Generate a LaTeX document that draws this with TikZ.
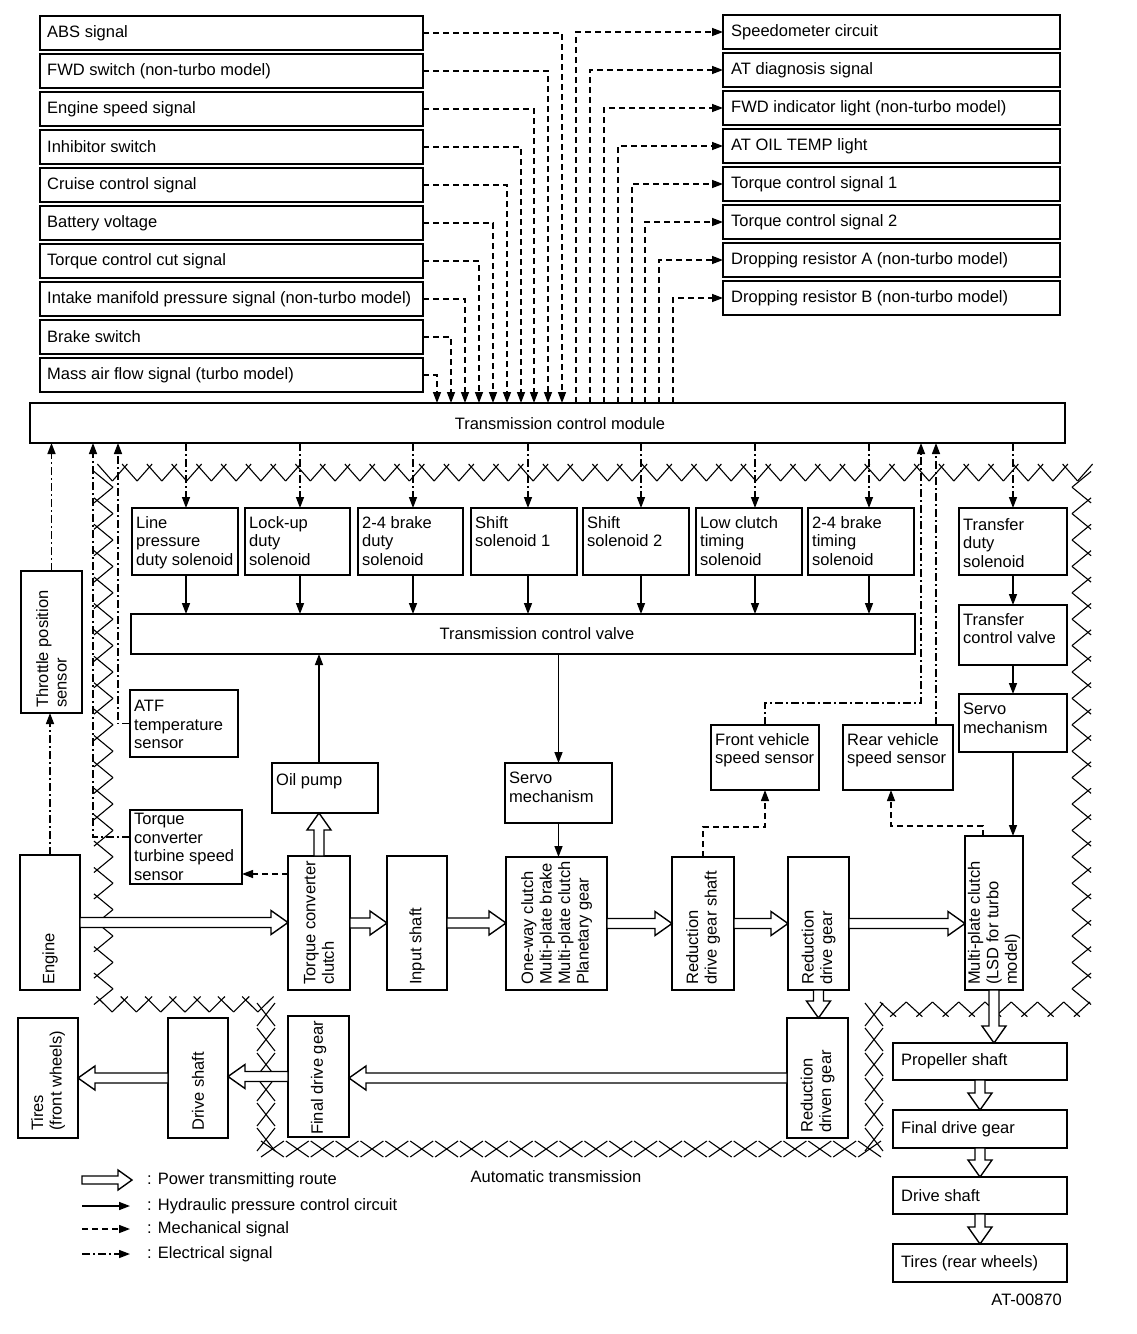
\documentclass[tikz,border=0pt]{standalone}
\usepackage{fontspec}
\setmainfont{Liberation Sans}
\usetikzlibrary{arrows.meta,calc}
\tikzset{
 box/.style={draw, line width=1.5pt, inner sep=0pt, outer sep=0pt},
 txt/.style={font=\fontsize{16.5}{18.5}\selectfont, align=left, inner sep=0pt},
 ahead/.style={-{Triangle[length=11pt,width=8pt]}},
 hyd/.style={line width=1.5pt, ahead},
 mech/.style={line width=1.4pt, dash pattern=on 6pt off 4pt, ahead},
 elec/.style={line width=1.4pt, dash pattern=on 8pt off 3pt on 2pt off 3pt, ahead},
 pw/.style={draw, fill=white, line width=1.4pt, line join=miter},
 zz/.style={line width=1.1pt},
}
\def\hw{5}\def\hh{12}\def\hl{17}
\newcommand\hollowH[2]{%
 \draw[pw] let \p1=(#1), \p2=(#2), \n1={sign(\x2-\x1)} in
  ({\x1},{\y1+\hw pt}) -- ({\x2-\n1*\hl pt},{\y1+\hw pt}) -- ({\x2-\n1*\hl pt},{\y1+\hh pt}) -- ({\x2},{\y1})
  -- ({\x2-\n1*\hl pt},{\y1-\hh pt}) -- ({\x2-\n1*\hl pt},{\y1-\hw pt}) -- ({\x1},{\y1-\hw pt}) -- cycle;}
\newcommand\hollowV[2]{%
 \draw[pw] let \p1=(#1), \p2=(#2), \n1={sign(\y2-\y1)} in
  ({\x1+\hw pt},{\y1}) -- ({\x1+\hw pt},{\y2-\n1*\hl pt}) -- ({\x1+\hh pt},{\y2-\n1*\hl pt}) -- ({\x1},{\y2})
  -- ({\x1-\hh pt},{\y2-\n1*\hl pt}) -- ({\x1-\hw pt},{\y2-\n1*\hl pt}) -- ({\x1-\hw pt},{\y1}) -- cycle;}
% zigzag horizontal: x1 x2 yc n amp ovA ovB
\newcommand\zzh[7]{%
 \foreach \j in {1,...,#4}{%
  \pgfmathsetmacro\zxa{#1+(\j-1)/#4*(#2-#1)}%
  \pgfmathsetmacro\zxb{#1+\j/#4*(#2-#1)}%
  \pgfmathsetmacro\zp{mod(\j-1,2)}%
  \pgfmathsetmacro\zya{#3+(#5)*(1-2*\zp)}%
  \pgfmathsetmacro\zyb{#3-(#5)*(1-2*\zp)}%
  \pgfmathsetmacro\zea{\zp<0.5 ? #6 : #7}%
  \pgfmathsetmacro\zeb{\zp<0.5 ? #7 : #6}%
  \pgfmathsetmacro\zL{veclen(\zxb-\zxa,\zyb-\zya)}%
  \pgfmathsetmacro\zux{(\zxb-\zxa)/\zL}%
  \pgfmathsetmacro\zuy{(\zyb-\zya)/\zL}%
  \draw[zz] ({\zxa-\zea*\zux},{\zya-\zea*\zuy}) -- ({\zxb+\zeb*\zux},{\zyb+\zeb*\zuy});
 }}
% zigzag vertical: y1 y2 xc n amp ovA ovB
\newcommand\zzv[7]{%
 \foreach \j in {1,...,#4}{%
  \pgfmathsetmacro\zya{#1+(\j-1)/#4*(#2-#1)}%
  \pgfmathsetmacro\zyb{#1+\j/#4*(#2-#1)}%
  \pgfmathsetmacro\zp{mod(\j-1,2)}%
  \pgfmathsetmacro\zxa{#3+(#5)*(1-2*\zp)}%
  \pgfmathsetmacro\zxb{#3-(#5)*(1-2*\zp)}%
  \pgfmathsetmacro\zea{\zp<0.5 ? #6 : #7}%
  \pgfmathsetmacro\zeb{\zp<0.5 ? #7 : #6}%
  \pgfmathsetmacro\zL{veclen(\zxb-\zxa,\zyb-\zya)}%
  \pgfmathsetmacro\zux{(\zxb-\zxa)/\zL}%
  \pgfmathsetmacro\zuy{(\zyb-\zya)/\zL}%
  \draw[zz] ({\zxa-\zea*\zux},{\zya-\zea*\zuy}) -- ({\zxb+\zeb*\zux},{\zyb+\zeb*\zuy});
 }}
% rows of crosses
\newcommand\xrh[5]{%
 \foreach \j in {1,...,#4}{%
  \pgfmathsetmacro\zxa{#1+(\j-1)/#4*(#2-#1)+1}%
  \pgfmathsetmacro\zxb{#1+\j/#4*(#2-#1)-1}%
  \draw[zz] ({\zxa},{#3-#5}) -- ({\zxb},{#3+#5}) ({\zxa},{#3+#5}) -- ({\zxb},{#3-#5});
 }}
\newcommand\xrv[5]{%
 \foreach \j in {1,...,#4}{%
  \pgfmathsetmacro\zya{#1+(\j-1)/#4*(#2-#1)+1}%
  \pgfmathsetmacro\zyb{#1+\j/#4*(#2-#1)-1}%
  \draw[zz] ({#3-#5},{\zya}) -- ({#3+#5},{\zyb}) ({#3+#5},{\zya}) -- ({#3-#5},{\zyb});
 }}
% boxes
\newcommand\bx[7][8pt]{%
 \node[box, anchor=north west, minimum width={(#5-#3)*1pt}, minimum height={(#6-#4)*1pt}] (#2) at (#3,#4) {};
 \node[txt, anchor=north west] at ([xshift=4pt,yshift=-#1]#2.north west) {#7};}
\newcommand\bxr[7][5pt]{%
 \node[box, anchor=north west, minimum width={(#5-#3)*1pt}, minimum height={(#6-#4)*1pt}] (#2) at (#3,#4) {};
 \node[txt, rotate=90, anchor=west] at ([yshift=#1]#2.south) {#7};}
\newcommand\bxl[6]{%
 \node[box, anchor=north west, minimum width={(#4-#2)*1pt}, minimum height={(#5-#3)*1pt}] (#1) at (#2,#3) {};
 \node[txt, anchor=west] at ([xshift=8pt]#1.west) {#6};}
\begin{document}
\begin{tikzpicture}[x=1pt,y=-1pt]
\useasboundingbox (0,0) rectangle (1136,1334);
% automatic transmission boundary
\zzh{100}{1090}{474}{80}{-7}{4}{0}
\zzv{474}{1002}{105}{40}{-8}{4}{0}
\zzv{474}{1002}{1080}{40}{8}{4}{0}
\zzh{100}{270}{1006}{14}{-6}{5}{0}
\zzh{880}{1090}{1008}{16}{-6}{0}{4}
\xrh{260}{882}{1149}{25}{8}
\xrv{1002}{1152}{266}{6}{9}
\xrv{1002}{1152}{874}{6}{9}
% TCM and valve
\node[box, anchor=north west, minimum width=1035pt, minimum height=40pt] (tcm) at (30,403) {};
\node[txt] (tcmlabel) at (560,424) {Transmission control module};
\node[box, anchor=north west, minimum width=784pt, minimum height=40pt] (valve) at (131,614) {};
\node[txt] (valvelabel) at (537,634) {Transmission control valve};
% inputs
\foreach \tx/\cx [count=\i] in {ABS signal/562, FWD switch (non-turbo model)/548, Engine speed signal/534, Inhibitor switch/521, Cruise control signal/507, Battery voltage/493, Torque control cut signal/479, Intake manifold pressure signal (non-turbo model)/465, Brake switch/451, Mass air flow signal (turbo model)/437}{
  \pgfmathsetmacro\yt{16+38*(\i-1)}
  \node[box, anchor=north west, minimum width=383pt, minimum height=34pt] (in\i) at (40,\yt) {};
  \node[txt, anchor=west] at ([xshift=7pt]in\i.west) {\tx};
  \coordinate (ci\i) at (\cx,0);
  \draw[mech] (in\i.east) -| (ci\i |- tcm.north);
}
% outputs
\foreach \tx/\cx [count=\i] in {Speedometer circuit/576, AT diagnosis signal/590, FWD indicator light (non-turbo model)/604, AT OIL TEMP light/618, Torque control signal 1/632, Torque control signal 2/645, Dropping resistor A (non-turbo model)/659, Dropping resistor B (non-turbo model)/673}{
  \pgfmathsetmacro\yt{15+38*(\i-1)}
  \node[box, anchor=north west, minimum width=337pt, minimum height=34pt] (out\i) at (723,\yt) {};
  \node[txt, anchor=west] at ([xshift=8pt]out\i.west) {\tx};
  \coordinate (co\i) at (\cx,0);
  \draw[mech] (co\i |- tcm.north) |- (out\i.west);
}
% solenoids
\bx{s1}{132}{508}{238}{575}{Line\\pressure\\duty solenoid}
\bx{s2}{245}{508}{350}{575}{Lock-up\\duty\\solenoid}
\bx{s3}{358}{508}{463}{575}{2-4 brake\\duty\\solenoid}
\bx{s4}{471}{508}{577}{575}{Shift\\solenoid 1}
\bx{s5}{583}{508}{689}{575}{Shift\\solenoid 2}
\bx{s6}{696}{508}{802}{575}{Low clutch\\timing\\solenoid}
\bx{s7}{808}{508}{914}{575}{2-4 brake\\timing\\solenoid}
\foreach \nm/\cx in {s1/186,s2/300,s3/413,s4/528,s5/641,s6/755,s7/869}{
  \coordinate (k\nm) at (\cx,0);
  \draw[elec] (k\nm |- tcm.south) -- (k\nm |- \nm.north);
  \draw[hyd] (k\nm |- \nm.south) -- (k\nm |- valve.north);
}
% transfer
\bx[10pt]{tds}{959}{508}{1067}{575}{Transfer\\duty\\solenoid}
\bx{tcv}{959}{605}{1067}{665}{Transfer\\control valve}
\bx[9pt]{srv2}{959}{694}{1067}{752}{Servo\\mechanism}
\draw[elec] (tds.north |- tcm.south) -- (tds.north);
\draw[hyd] (tds.south) -- (tcv.north);
\draw[hyd] (tcv.south) -- (srv2.north);
% throttle and engine
\bxr{thr}{21}{571}{82}{713}{Throttle position\\sensor}
\bxr{eng}{20}{855}{80}{990}{Engine}
\draw[elec] (eng.north) -- (eng.north |- thr.south);
\draw[elec] (thr.north) -- (thr.north |- tcm.south);
% sensors left
\bx[10pt]{atf}{130}{690}{238}{757}{ATF\\temperature\\sensor}
\bx[3pt]{tcts}{130}{810}{242}{884}{Torque\\converter\\turbine speed\\sensor}
\coordinate (kat) at (118,0);
\coordinate (ktc) at (93,0);
\draw[elec] (atf.west) -| (kat |- tcm.south);
\draw[elec] ([yshift=10pt]tcts.west) -| (ktc |- tcm.south);
% oil pump, servo
\bx[10pt]{oil}{272}{763}{378}{813}{Oil pump}
\bx[9pt]{srv1}{505}{763}{612}{823}{Servo\\mechanism}
% main row
\bxr{tcc}{288}{856}{350}{990}{Torque converter\\clutch}
\bxr{ins}{387}{856}{447}{990}{Input shaft}
\bxr{owc}{506}{857}{607}{990}{One-way clutch\\Multi-plate brake\\Multi-plate clutch\\Planetary gear}
\bxr{rdgs}{672}{857}{734}{990}{Reduction\\drive gear shaft}
\bxr{rdg}{788}{857}{849}{990}{Reduction\\drive gear}
\bxr{mpc}{965}{836}{1023}{990}{Multi-plate clutch\\(LSD for turbo\\model)}
% hydraulic
\draw[hyd] ([xshift=-6pt]oil.north) -- ([xshift=-6pt]oil.north |- valve.south);
\draw[hyd] (srv1.north |- valve.south) -- (srv1.north);
\draw[hyd] (srv1.south) -- (srv1.south |- owc.north);
\draw[hyd] (srv2.south) -- (srv2.south |- mpc.north);
% speed sensors
\bx{fvs}{711}{725}{819}{790}{Front vehicle\\speed sensor}
\bx{rvs}{843}{725}{953}{790}{Rear vehicle\\speed sensor}
\coordinate (fvk) at (921,703);
\draw[elec] (fvs.north) |- (fvk) -- (fvk |- tcm.south);
\coordinate (rvk) at (936,0);
\draw[elec] (rvk |- rvs.north) -- (rvk |- tcm.south);
\coordinate (fm) at (765,827);
\draw[mech] (rdgs.north) |- (fm) -- (fm |- fvs.south);
\coordinate (rm) at (891,826);
\draw[mech] ([xshift=-11pt]mpc.north) |- (rm) -- (rm |- rvs.south);
\coordinate (tm) at ([yshift=10pt]tcts.south east);
\draw[mech] (tcc.west |- tm) -- (tm);
% bottom row
\bxr[7pt]{tfw}{18}{1018}{78}{1138}{Tires\\(front wheels)}
\bxr[7pt]{dsl}{168}{1018}{228}{1138}{Drive shaft}
\bxr[2pt]{fdl}{288}{1016}{349}{1137}{Final drive gear}
\bxr{rdn}{787}{1018}{848}{1138}{Reduction\\driven gear}
\bxl{prop}{893}{1043}{1067}{1080}{Propeller shaft}
\bxl{fdr}{893}{1110}{1067}{1148}{Final drive gear}
\bxl{dsr}{893}{1177}{1067}{1214}{Drive shaft}
\bxl{trw}{893}{1244}{1067}{1282}{Tires (rear wheels)}
% power route
\hollowH{eng.east}{tcc.west}
\hollowH{tcc.east}{ins.west}
\hollowH{ins.east}{owc.west}
\hollowH{owc.east}{rdgs.west}
\hollowH{rdgs.east}{rdg.west}
\hollowH{rdg.east}{mpc.west |- rdg.east}
\hollowV{tcc.north}{tcc.north |- oil.south}
\hollowV{rdg.south}{rdg.south |- rdn.north}
\hollowH{rdn.west}{fdl.east |- rdn.west}
\hollowH{fdl.west}{dsl.east |- fdl.west}
\hollowH{dsl.west}{tfw.east |- dsl.west}
\hollowV{mpc.south}{mpc.south |- prop.north}
\hollowV{prop.south}{prop.south |- fdr.north}
\hollowV{fdr.south}{fdr.south |- dsr.north}
\hollowV{dsr.south}{dsr.south |- trw.north}
% legend
\coordinate (la1) at (82,1180); \coordinate (lb1) at (132,1180);
\begingroup\def\hw{4}\def\hh{10}\def\hl{14}\hollowH{la1}{lb1}\endgroup
\node[txt, anchor=west] (lg1) at (147,1180) {: Power transmitting route};
\coordinate (la2) at (82,1206); \coordinate (lb2) at (130,1206);
\draw[hyd] (la2) -- (lb2);
\node[txt, anchor=west] (lg2) at (147,1206) {: Hydraulic pressure control circuit};
\coordinate (la3) at (82,1229); \coordinate (lb3) at (130,1229);
\draw[mech] (la3) -- (lb3);
\node[txt, anchor=west] (lg3) at (147,1229) {: Mechanical signal};
\coordinate (la4) at (82,1254); \coordinate (lb4) at (130,1254);
\draw[elec] (la4) -- (lb4);
\node[txt, anchor=west] (lg4) at (147,1254) {: Electrical signal};
\node[txt] (atlabel) at (556,1177) {Automatic transmission};
\node[txt, anchor=east] (code) at (1062,1300) {AT-00870};
\end{tikzpicture}
\end{document}
